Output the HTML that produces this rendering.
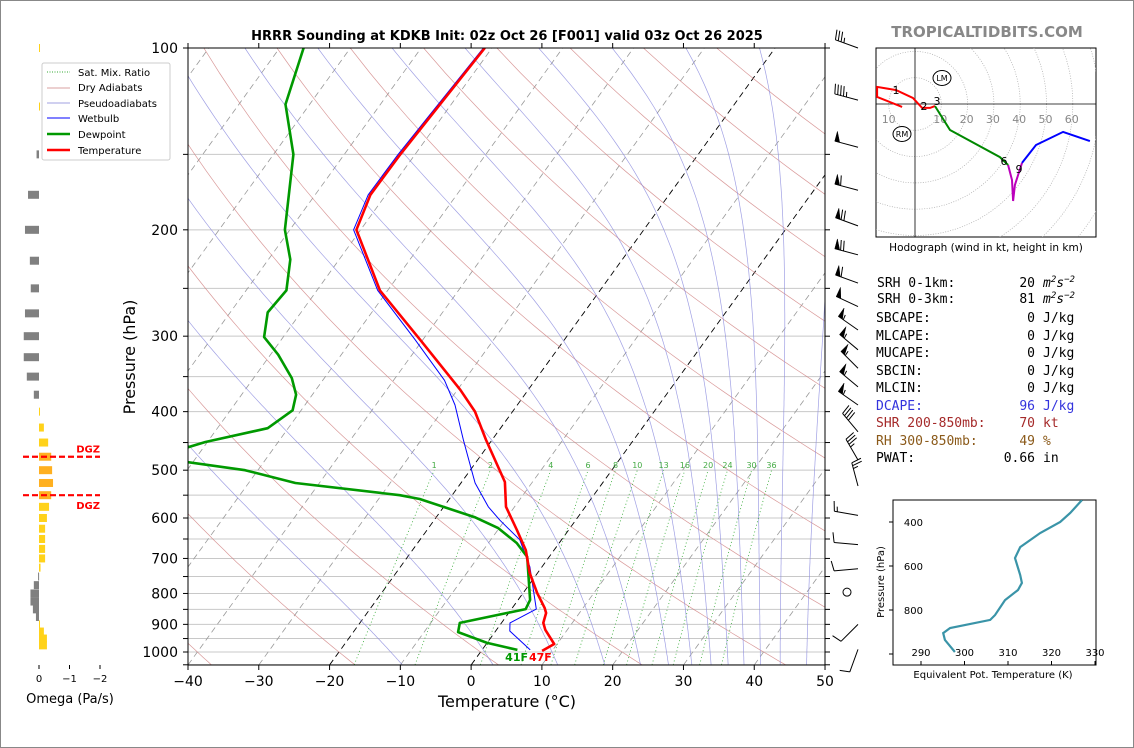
<!DOCTYPE html>
<html><head><meta charset="utf-8">
<style>
html,body{margin:0;padding:0;background:#fff;}
svg{display:block;font-family:"DejaVu Sans","Liberation Sans",sans-serif;}
.mono{font-family:"DejaVu Sans Mono","Liberation Mono",monospace;font-size:13px;}
</style></head>
<body>
<svg id="fig" xmlns="http://www.w3.org/2000/svg" width="1134" height="748" viewBox="0 0 1134 748">
<rect x="0.5" y="0.5" width="1133" height="747" fill="#fff" stroke="#888"/>
<defs>
<clipPath id="mainclip"><rect x="188" y="48" width="637" height="617"/></clipPath>
<clipPath id="hodoclip"><rect x="876" y="48" width="220" height="189"/></clipPath>
<clipPath id="teclip"><rect x="893" y="500" width="203" height="165"/></clipPath>
</defs>
<text x="507" y="40" text-anchor="middle" font-size="13" font-weight="bold">HRRR Sounding at KDKB Init: 02z Oct 26 [F001] valid 03z Oct 26 2025</text>
<text x="987" y="37" text-anchor="middle" font-size="15" font-weight="bold" fill="#888">TROPICALTIDBITS.COM</text>
<g id="bg" clip-path="url(#mainclip)"></g>
<g id="series" clip-path="url(#mainclip)"></g>
<g id="axes"></g>
<g id="barbs"></g>
<g id="omega"></g>
<g id="hodo"></g>
<g id="te"></g>
<g id="legend">
<rect x="42" y="63" width="128" height="97" fill="#fff" stroke="#ccc" rx="2"/>
<line x1="47" y1="72" x2="70" y2="72" stroke="#3a3" stroke-dasharray="1,1.5"/>
<text x="78" y="76" font-size="10">Sat. Mix. Ratio</text>
<line x1="47" y1="88" x2="70" y2="88" stroke="#d9a0a0"/>
<text x="78" y="91" font-size="10">Dry Adiabats</text>
<line x1="47" y1="103" x2="70" y2="103" stroke="#a0a0e0"/>
<text x="78" y="107" font-size="10">Pseudoadiabats</text>
<line x1="47" y1="118" x2="70" y2="118" stroke="#00f"/>
<text x="78" y="122" font-size="10">Wetbulb</text>
<line x1="47" y1="134" x2="70" y2="134" stroke="#090" stroke-width="2.5"/>
<text x="78" y="138" font-size="10">Dewpoint</text>
<line x1="47" y1="150" x2="70" y2="150" stroke="#f00" stroke-width="2.5"/>
<text x="78" y="154" font-size="10">Temperature</text>
</g>
<g class="mono">
<text x="877" y="287">SRH 0-1km:</text><text x="1035" y="287" text-anchor="end">20</text><text x="1043" y="287" font-style="italic">m<tspan dy="-5" font-size="9">2</tspan><tspan dy="5">s</tspan><tspan dy="-5" font-size="9">−2</tspan></text>
<text x="877" y="303">SRH 0-3km:</text><text x="1035" y="303" text-anchor="end">81</text><text x="1043" y="303" font-style="italic">m<tspan dy="-5" font-size="9">2</tspan><tspan dy="5">s</tspan><tspan dy="-5" font-size="9">−2</tspan></text>
<text x="876" y="322">SBCAPE:</text>
<text x="876" y="340">MLCAPE:</text>
<text x="876" y="357">MUCAPE:</text>
<text x="876" y="375">SBCIN:</text>
<text x="876" y="392">MLCIN:</text>
<text x="876" y="410" fill="#3333dd">DCAPE:</text>
<text x="876" y="427" fill="#a52a2a">SHR 200-850mb:</text>
<text x="876" y="445" fill="#8b5a1a">RH 300-850mb:</text>
<text x="876" y="462">PWAT:</text>
<text x="1035" y="322" text-anchor="end">0</text><text x="1043" y="322">J/kg</text>
<text x="1035" y="340" text-anchor="end">0</text><text x="1043" y="340">J/kg</text>
<text x="1035" y="357" text-anchor="end">0</text><text x="1043" y="357">J/kg</text>
<text x="1035" y="375" text-anchor="end">0</text><text x="1043" y="375">J/kg</text>
<text x="1035" y="392" text-anchor="end">0</text><text x="1043" y="392">J/kg</text>
<text x="1035" y="410" text-anchor="end" fill="#3333dd">96</text><text x="1043" y="410" fill="#3333dd">J/kg</text>
<text x="1035" y="427" text-anchor="end" fill="#a52a2a">70</text><text x="1043" y="427" fill="#a52a2a">kt</text>
<text x="1035" y="445" text-anchor="end" fill="#8b5a1a">49</text><text x="1043" y="445" fill="#8b5a1a">%</text>
<text x="1035" y="462" text-anchor="end">0.66</text><text x="1043" y="462">in</text>
</g>
<script>
// ---------- data ----------
const tempP = [100,150,175,200,252,304,368,400,445,523,575,628,678,740,799,846,862,895,919,970,996];
const tempC = [-61.0,-62.1,-62.2,-60.6,-51.1,-40.4,-29.6,-25.3,-20.9,-13.9,-11.2,-7.3,-4.0,-1.1,2.0,4.6,5.3,5.9,6.9,9.6,8.6];
const dewP = [100,124,150,200,224,252,274,301,322,352,375,398,426,449,458,472,485,500,525,550,558,598,623,660,696,740,820,849,895,927,966,992];
const dewC = [-86.6,-83.4,-77.2,-70.7,-66.9,-64.3,-64.7,-62.7,-58.9,-54.6,-52.3,-51.2,-52.9,-60.3,-62.2,-70,-60.7,-51.8,-43.4,-27.4,-24.2,-14.6,-10.2,-6.0,-3.1,-1.3,1.7,2.0,-5.9,-5.2,0.0,5.0];
const wbP = [100,150,175,200,252,304,355,390,445,500,525,575,605,652,723,849,895,923,992];
const wbC = [-61.2,-62.4,-62.5,-61.0,-51.4,-41.1,-32.8,-28.8,-24.1,-19.8,-18.0,-13.7,-10.7,-5.9,-1.7,3.5,1.2,2.0,6.8];
const mixRatios = [1,2,4,6,8,10,13,16,20,24,30,36];
const dryThetaC = [-40,-20,0,20,40,60,80,100,120,140,160,180,200];
const moistTopC = [-136.5,-126.1,-115.7,-105.3,-94.9,-84.6,-74.1,-63.8,-53.4,-43.0,-32.6,-22.2,-11.8];
const isoTemps = [-140,-130,-120,-110,-100,-90,-80,-70,-60,-50,-40,-30,-20,-10,0,10,20,30,40,50];
const xTicks = [-40,-30,-20,-10,0,10,20,30,40,50];
const yTicks = [100,200,300,400,500,600,700,800,900,1000];
const barbP = [100,122,146,172,197,220,245,268,293,316,339,364,390,432,481,531,594,664,728,796,900,990];
const barbDir = [290,285,285,285,290,285,290,295,305,310,315,310,305,320,330,345,280,275,265,0,225,200];
const barbSpd = [35,45,50,60,70,70,60,50,55,55,55,55,55,40,35,25,15,10,10,0,10,10];
const omegaP = [100,125,150,175,200,225,250,275,300,325,350,375,400,425,450,475,500,525,550,575,600,625,650,675,700,725,750,775,800,825,850,875,900,925,950,975];
const omegaV = [-0.02,-0.02,0.08,0.36,0.46,0.3,0.27,0.46,0.5,0.5,0.4,0.17,-0.03,-0.16,-0.3,-0.4,-0.43,-0.46,-0.4,-0.33,-0.26,-0.2,-0.2,-0.2,-0.2,-0.05,0.03,0.17,0.28,0.28,0.2,0.1,-0.03,-0.16,-0.26,-0.26];
const dgzP = [475,550];
const hodoRedU = [-4.9,-14.4,-14.4,-7.2,-0.8,2.7,5.7,7.6];
const hodoRedV = [-1.1,2.7,6.5,5.3,2.3,-1.5,-1.5,-0.8];
const hodoGreenU = [7.6,13.3,32.3,35.4];
const hodoGreenV = [-0.8,-9.9,-20.2,-23.2];
const hodoMagU = [35.4,36.9,37.3,38.0,39.2,40.7];
const hodoMagV = [-23.2,-28.9,-36.9,-30.8,-27.0,-22.4];
const hodoBlueU = [40.7,46.0,56.3,66.5];
const hodoBlueV = [-22.4,-15.6,-10.6,-14.1];
const teP = [300,359,400,450,514,564,641,677,709,755,823,845,882,905,936,991];
const teK = [327.0,324.3,322.0,317.4,312.8,311.6,312.8,313.2,312.3,309.3,307.0,305.9,296.7,295.1,295.5,297.8];
const teXTicks = [290,300,310,320,330];
const teYTicks = [400,600,800,1000];

// ---------- helpers ----------
const NS = "http://www.w3.org/2000/svg";
function mk(tag, attrs, parent){ const e=document.createElementNS(NS,tag); for(const k in attrs) e.setAttribute(k,attrs[k]); parent.appendChild(e); return e; }
const yOf = p => 48 + (Math.log10(p)-2)*604;
const xOf = (T,p) => 188 + (T+40)*7.078 + 0.722*(665 - yOf(p));
const ptsStr = (arr) => arr.map(q=>q[0].toFixed(1)+","+q[1].toFixed(1)).join(" ");
const bg=document.getElementById('bg'), se=document.getElementById('series'), ax=document.getElementById('axes');

for(let p=100;p<=1050;p+=50){
  const l=mk('line',{x1:188,x2:825,y1:yOf(p),y2:yOf(p),stroke:'#c8c8c8','stroke-width':1},bg);
  
  
}
isoTemps.forEach(T=>{
  const blk = (T===0||T===-20);
  const l=mk('line',{x1:xOf(T,1050),y1:yOf(1050),x2:xOf(T,100),y2:yOf(100),stroke:blk?'#000':'#999','stroke-width':blk?0.9:0.8,'stroke-dasharray':'6,4'},bg);
  
  
});
dryThetaC.forEach(th=>{
  const pts=[]; for(let p=1050;p>=100;p-=10){ const T=(th+273.15)*Math.pow(p/1000,0.286)-273.15; pts.push([xOf(T,p),yOf(p)]); }
  const l=mk('polyline',{points:ptsStr(pts),fill:'none',stroke:'#d08080','stroke-width':0.7,opacity:0.8},bg);
  
  
});
function es(Tc){return 6.112*Math.exp(17.67*Tc/(Tc+243.5));}
moistTopC.forEach(t0=>{
  let T=t0+273.15, p=100; const pts=[[xOf(t0,100),yOf(100)]];
  const dp=1;
  while(p<1050){
    const e=es(T-273.15); if(e>0.3*p) break;
    const rs=0.622*e/(p-e);
    const g=(287*T+2.5e6*rs)/(1004+2.5e6*2.5e6*rs*0.622/(287*T*T))/p;
    T+=g*dp; p+=dp;
    if(p%5===0) pts.push([xOf(T-273.15,p),yOf(p)]);
  }
  const l=mk('polyline',{points:ptsStr(pts),fill:'none',stroke:'#8888dd','stroke-width':0.7,opacity:0.8},bg);
  
  
});
mixRatios.forEach(w=>{
  const pts=[]; let tdTop=0;
  for(let p=1050;p>=500;p-=10){ const e=w*p/(622+w); const ln=Math.log(e/6.112); const Td=243.5*ln/(17.67-ln); pts.push([xOf(Td,p),yOf(p)]); tdTop=Td; }
  const l=mk('polyline',{points:ptsStr(pts),fill:'none',stroke:'#3a3','stroke-width':0.8,'stroke-dasharray':'1,2.5'},bg);
  
  
  const t=mk('text',{x:xOf(tdTop,500),y:yOf(500)-2,'text-anchor':'middle','font-size':8,fill:'#4a4'},bg);
  t.textContent=w;
  
  
});
function series(P,C,color,w,name){
  const l=mk('polyline',{points:ptsStr(P.map((p,i)=>[xOf(C[i],p),yOf(p)])),fill:'none',stroke:color,'stroke-width':w,'stroke-linejoin':'round'},se);
  
  
}
series(wbP,wbC,'#0000ff',1,'wetbulb-line');
series(dewP,dewC,'#009900',2.6,'dewpoint-line');
series(tempP,tempC,'#ff0000',2.6,'temperature-line');
{
  const tf=Math.round(tempC[tempC.length-1]*9/5+32), df=Math.round(dewC[dewC.length-1]*9/5+32);
  const t1=mk('text',{x:528,y:661,'text-anchor':'end','font-size':11,'font-weight':'bold',fill:'#090'},ax);
  t1.textContent=df+'F';
  
  
  const t2=mk('text',{x:529,y:661,'font-size':11,'font-weight':'bold',fill:'#f00'},ax);
  t2.textContent=tf+'F';
  
  
}
{
  const r=mk('rect',{x:188,y:48,width:637,height:617,fill:'none',stroke:'#000','stroke-width':1},ax);
  
  
  xTicks.forEach(T=>{
    const x=188+(T+40)*7.078;
    const tk=mk('line',{x1:x,x2:x,y1:665,y2:670,stroke:'#000'},ax);
    
    
    const tt=mk('line',{x1:x,x2:x,y1:48,y2:43,stroke:'#000'},ax);
    
    
    const lb=mk('text',{x:x,y:686,'text-anchor':'middle','font-size':14},ax);
    lb.textContent=(T<0?'−'+(-T):T);
    
    
  });
  for(let p=100;p<=1050;p+=50){
    const y=yOf(p);
    const tk=mk('line',{x1:183,x2:188,y1:y,y2:y,stroke:'#000'},ax);
    
    
    const tr=mk('line',{x1:825,x2:830,y1:y,y2:y,stroke:'#000'},ax);
    
    
  }
  yTicks.forEach(p=>{
    const lb=mk('text',{x:178,y:yOf(p)+5,'text-anchor':'end','font-size':14},ax);
    lb.textContent=p;
    
    
  });
  const xl=mk('text',{x:507,y:707,'text-anchor':'middle','font-size':16},ax);
  xl.textContent='Temperature (°C)';
  
  
  const yl=mk('text',{x:0,y:0,'text-anchor':'middle','font-size':16,transform:'translate(135,357) rotate(-90)'},ax);
  yl.textContent='Pressure (hPa)';
  
  
}
{
  const g=document.getElementById('barbs');
  barbP.forEach((p,i)=>{
    const bx=858, by=yOf(p), sp=barbSpd[i], dir=barbDir[i]*Math.PI/180;
    if(sp<3){
      const c=mk('circle',{cx:847,cy:by,r:4,fill:'none',stroke:'#000','stroke-width':1},g);
      
      
      return;
    }
    const dx=Math.sin(dir), dy=-Math.cos(dir), L=24;
    const tx=bx+dx*L, ty=by+dy*L;
    const px=-dy, py=dx;
    let d=`M${bx},${by} L${tx},${ty}`;
    let rem=Math.round(sp/5)*5, pos=0;
    let polys='';
    while(rem>=50){ const ax1=tx-dx*pos, ay1=ty-dy*pos; const ax2=tx-dx*(pos+5), ay2=ty-dy*(pos+5);
      polys+=`M${ax1},${ay1} L${ax1+px*10},${ay1+py*10} L${ax2},${ay2} Z `; pos+=6; rem-=50; }
    while(rem>=10){ const ax1=tx-dx*pos, ay1=ty-dy*pos; d+=` M${ax1},${ay1} L${ax1+px*10+dx*2},${ay1+py*10+dy*2}`; pos+=3; rem-=10; }
    if(rem>=5){ if(pos===0)pos=3; const ax1=tx-dx*pos, ay1=ty-dy*pos; d+=` M${ax1},${ay1} L${ax1+px*5+dx*1},${ay1+py*5+dy*1}`; }
    const b=mk('path',{d:d,stroke:'#000','stroke-width':1,fill:'none'},g);
    
    
    if(polys){ const f=mk('path',{d:polys,fill:'#000',stroke:'#000','stroke-width':0.5},g);
      
       }
  });
}
{
  const g=document.getElementById('omega');
  const ox=v=>39-v*30.5;
  omegaP.forEach((p,i)=>{
    const v=omegaV[i], y=yOf(p);
    const x1=Math.min(ox(0),ox(v)), w=Math.max(Math.abs(ox(v)-ox(0)),1);
    const col = v>0?'#808080':((p>=dgzP[0]&&p<=dgzP[1])?'#ffb020':'#ffd21a');
    const r=mk('rect',{x:x1,y:y-4,width:w,height:8,fill:col},g);
    
    
  });
  dgzP.forEach((p,i)=>{
    const y=yOf(p);
    const l=mk('line',{x1:23,x2:100,y1:y,y2:y,stroke:'#f00','stroke-width':2.2,'stroke-dasharray':'6,3'},g);
    
    
    const t=mk('text',{x:100,y:i===0?y-4:y+14,'text-anchor':'end','font-size':10,'font-weight':'bold',fill:'#f00'},g);
    t.textContent='DGZ';
    
    
  });
  [0,-1,-2].forEach(v=>{
    const tk=mk('line',{x1:ox(v),x2:ox(v),y1:665,y2:669,stroke:'#000'},g);
    
    
    const lb=mk('text',{x:ox(v),y:682,'text-anchor':'middle','font-size':10},g);
    lb.textContent=v===0?'0':'−'+(-v);
    
    
  });
  const t=mk('text',{x:70,y:703,'text-anchor':'middle','font-size':13},g);
  t.textContent='Omega (Pa/s)';
  
  
}
{
  const g=document.getElementById('hodo');
  const cx=915, cy=104, s=2.63;
  const hx=u=>cx+u*s, hy=v=>cy-v*s;
  const box=mk('rect',{x:876,y:48,width:220,height:189,fill:'#fff',stroke:'#000','stroke-width':1},g);
  
  
  const cg=mk('g',{'clip-path':'url(#hodoclip)'},g);
  for(let r=10;r<=80;r+=10){
    const c=mk('circle',{cx:cx,cy:cy,r:r*s,fill:'none',stroke:'#aaa','stroke-width':0.7,'stroke-dasharray':'1,1.5'},cg);
    
    
  }
  const h1=mk('line',{x1:876,x2:1096,y1:cy,y2:cy,stroke:'#000','stroke-width':0.8},cg);
  
  
  const h2=mk('line',{x1:cx,x2:cx,y1:48,y2:237,stroke:'#000','stroke-width':0.8},cg);
  
  
  [[-10,'10'],[10,'10'],[20,'20'],[30,'30'],[40,'40'],[50,'50'],[60,'60']].forEach(a=>{
    const t=mk('text',{x:hx(a[0])+(a[0]<0?0:-1),y:123,'text-anchor':'middle','font-size':11,fill:'#888'},cg);
    t.textContent=a[1];
    
    
  });
  function hl(U,V,col,name){
    const l=mk('polyline',{points:ptsStr(U.map((u,i)=>[hx(u),hy(V[i])])),fill:'none',stroke:col,'stroke-width':2},cg);
    
    
  }
  hl(hodoRedU,hodoRedV,'#f00','hodograph-0-3km');
  hl(hodoGreenU,hodoGreenV,'#080','hodograph-3-6km');
  hl(hodoMagU,hodoMagV,'#b0b','hodograph-6-9km');
  hl(hodoBlueU,hodoBlueV,'#00f','hodograph-9-12km');
  [['1',896,94],['2',924,110],['3',937,105],['6',1004,165],['9',1019,173]].forEach(a=>{
    const t=mk('text',{x:a[1],y:a[2],'text-anchor':'middle','font-size':11},cg);
    t.textContent=a[0];
    
    
  });
  [['LM',942,78],['RM',902,134]].forEach(a=>{
    const e=mk('ellipse',{cx:a[1],cy:a[2],rx:9,ry:7.5,fill:'#fff',stroke:'#000','stroke-width':1},cg);
    
    
    const t=mk('text',{x:a[1],y:a[2]+3,'text-anchor':'middle','font-size':8},cg);
    t.textContent=a[0];
    
    
  });
  const cap=mk('text',{x:986,y:251,'text-anchor':'middle','font-size':10.5},g);
  cap.textContent='Hodograph (wind in kt, height in km)';
  
  
}
{
  const g=document.getElementById('te');
  const tx=k=>921+(k-290)*4.35, ty=p=>522+(p-400)*0.22;
  const box=mk('rect',{x:893,y:500,width:203,height:165,fill:'#fff',stroke:'#000','stroke-width':1},g);
  
  
  const l=mk('polyline',{points:ptsStr(teP.map((p,i)=>[tx(teK[i]),ty(p)])),fill:'none',stroke:'#3a94a8','stroke-width':2.2,'clip-path':'url(#teclip)'},g);
  
  
  teXTicks.forEach(k=>{
    const t=mk('text',{x:tx(k),y:656,'text-anchor':'middle','font-size':10},g);
    t.textContent=k;
    
    
    const tk=mk('line',{x1:tx(k),x2:tx(k),y1:665,y2:661,stroke:'#000'},g);
    
    
  });
  teYTicks.forEach(p=>{
    const tk=mk('line',{x1:893,x2:889,y1:ty(p),y2:ty(p),stroke:'#000'},g);
    
    
    if(p<1000){ const t=mk('text',{x:923,y:ty(p)+4,'text-anchor':'end','font-size':10},g);
      t.textContent=p;
      
       }
  });
  const xl=mk('text',{x:993,y:678,'text-anchor':'middle','font-size':10},g);
  xl.textContent='Equivalent Pot. Temperature (K)';
  
  
  const yl=mk('text',{x:0,y:0,'text-anchor':'middle','font-size':10,transform:'translate(884,582) rotate(-90)'},g);
  yl.textContent='Pressure (hPa)';
  
  
}
</script>
</svg>
</body></html>
